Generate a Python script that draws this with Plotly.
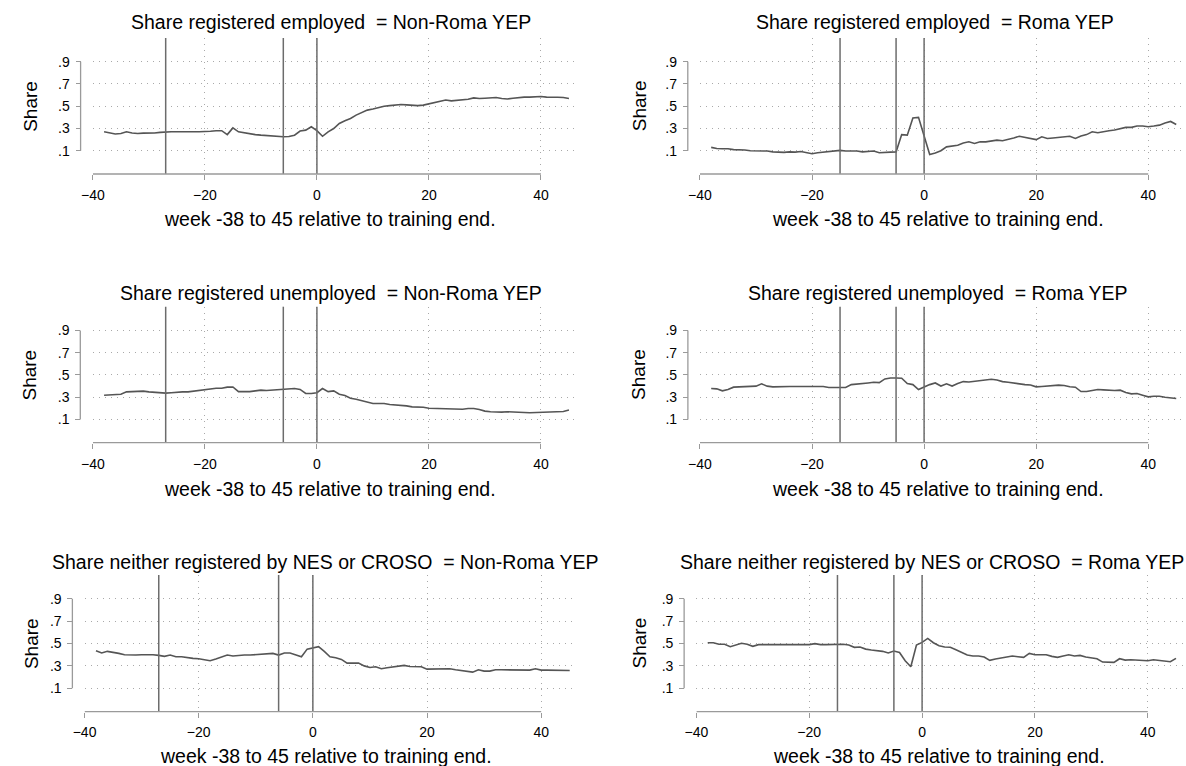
import plotly.graph_objects as go

W, H = 1186, 766
weeks = list(range(-38, 46))

titles = [
    "Share registered employed  = Non-Roma YEP",
    "Share registered employed  = Roma YEP",
    "Share registered unemployed  = Non-Roma YEP",
    "Share registered unemployed  = Roma YEP",
    "Share neither registered by NES or CROSO  = Non-Roma YEP",
    "Share neither registered by NES or CROSO  = Roma YEP",
]
x_title = "week -38 to 45 relative to training end."
y_title = "Share"
x_ticks = [-40, -20, 0, 20, 40]
y_ticks = [0.1, 0.3, 0.5, 0.7, 0.9]
y_ticktext = [".1", ".3", ".5", ".7", ".9"]

vlines_nonroma = [-27, -6, 0]
vlines_roma = [-15, -5, 0]

emp_nonroma = [0.27, 0.26, 0.25, 0.255, 0.27, 0.26, 0.255, 0.258, 0.258, 0.26, 0.265, 0.27,
               0.27, 0.27, 0.268, 0.268, 0.27, 0.27, 0.27, 0.275, 0.28, 0.28, 0.245, 0.305,
               0.27, 0.26, 0.25, 0.245, 0.24, 0.235, 0.232, 0.228, 0.226, 0.228, 0.24, 0.277,
               0.285, 0.315, 0.28, 0.23, 0.27, 0.30, 0.345, 0.37, 0.39, 0.42, 0.44, 0.465,
               0.475, 0.49, 0.50, 0.505, 0.51, 0.515, 0.512, 0.51, 0.505, 0.51, 0.52, 0.535,
               0.54, 0.556, 0.548, 0.552, 0.558, 0.562, 0.575, 0.57, 0.572, 0.575, 0.578, 0.57,
               0.565, 0.572, 0.58, 0.582, 0.582, 0.584, 0.588, 0.582, 0.578, 0.58, 0.578, 0.57]

emp_roma = [0.13, 0.12, 0.118, 0.118, 0.11, 0.11, 0.106, 0.10, 0.10, 0.103, 0.097, 0.09,
            0.085, 0.085, 0.09, 0.088, 0.093, 0.085, 0.073, 0.082, 0.088, 0.09, 0.10, 0.103,
            0.097, 0.097, 0.097, 0.09, 0.093, 0.097, 0.082, 0.082, 0.088, 0.09, 0.245, 0.24,
            0.395, 0.40, 0.23, 0.067, 0.08, 0.10, 0.135, 0.145, 0.15, 0.17, 0.18, 0.165,
            0.18, 0.18, 0.185, 0.195, 0.19, 0.20, 0.215, 0.23, 0.22, 0.21, 0.20, 0.225,
            0.21, 0.215, 0.22, 0.223, 0.23, 0.21, 0.232, 0.245, 0.27, 0.262, 0.274, 0.28,
            0.286, 0.298, 0.31, 0.31, 0.322, 0.322, 0.316, 0.322, 0.33, 0.35, 0.363, 0.336]

unemp_nonroma = [0.318, 0.32, 0.324, 0.327, 0.348, 0.35, 0.35, 0.354, 0.348, 0.344, 0.34, 0.336,
                 0.34, 0.345, 0.348, 0.348, 0.354, 0.363, 0.37, 0.37, 0.38, 0.38, 0.39, 0.392,
                 0.35, 0.35, 0.35, 0.357, 0.363, 0.36, 0.363, 0.372, 0.375, 0.375, 0.378, 0.37,
                 0.333, 0.333, 0.34, 0.378, 0.35, 0.357, 0.327, 0.315, 0.29, 0.282, 0.267, 0.255,
                 0.243, 0.243, 0.243, 0.234, 0.231, 0.225, 0.222, 0.213, 0.213, 0.21, 0.20, 0.198,
                 0.195, 0.195, 0.195, 0.195, 0.192, 0.198, 0.198, 0.19, 0.175, 0.169, 0.166, 0.166,
                 0.169, 0.169, 0.166, 0.163, 0.16, 0.163, 0.166, 0.166, 0.169, 0.172, 0.172, 0.184]

unemp_roma = [0.378, 0.375, 0.357, 0.369, 0.39, 0.393, 0.396, 0.399, 0.399, 0.42, 0.399, 0.393,
              0.396, 0.396, 0.396, 0.396, 0.396, 0.395, 0.393, 0.399, 0.396, 0.387, 0.387, 0.39,
              0.387, 0.413, 0.416, 0.422, 0.428, 0.434, 0.431, 0.464, 0.473, 0.473, 0.47, 0.422,
              0.413, 0.369, 0.393, 0.413, 0.428, 0.40, 0.42, 0.40, 0.422, 0.44, 0.437, 0.443,
              0.449, 0.458, 0.461, 0.455, 0.44, 0.434, 0.425, 0.42, 0.413, 0.41, 0.393, 0.396,
              0.399, 0.408, 0.408, 0.405, 0.393, 0.39, 0.351, 0.351, 0.36, 0.369, 0.366, 0.36,
              0.36, 0.363, 0.342, 0.33, 0.333, 0.318, 0.303, 0.309, 0.309, 0.30, 0.291, 0.288]

neither_nonroma = [0.435, 0.415, 0.43, 0.424, 0.412, 0.40, 0.397, 0.397, 0.40, 0.403, 0.40, 0.394,
                   0.385, 0.397, 0.382, 0.382, 0.373, 0.367, 0.364, 0.355, 0.346, 0.361, 0.376, 0.397,
                   0.388, 0.394, 0.397, 0.397, 0.40, 0.406, 0.409, 0.412, 0.397, 0.415, 0.415, 0.40,
                   0.382, 0.45, 0.46, 0.472, 0.43, 0.382, 0.373, 0.358, 0.325, 0.322, 0.325, 0.30,
                   0.286, 0.292, 0.274, 0.283, 0.289, 0.292, 0.304, 0.295, 0.295, 0.292, 0.271, 0.271,
                   0.271, 0.271, 0.274, 0.265, 0.256, 0.247, 0.244, 0.265, 0.253, 0.253, 0.265, 0.265,
                   0.265, 0.265, 0.262, 0.262, 0.262, 0.274, 0.262, 0.262, 0.262, 0.256, 0.262, 0.259]

neither_roma = [0.507, 0.507, 0.493, 0.493, 0.472, 0.484, 0.502, 0.493, 0.475, 0.49, 0.49, 0.49,
                0.49, 0.487, 0.484, 0.49, 0.484, 0.49, 0.49, 0.499, 0.49, 0.49, 0.493, 0.49,
                0.493, 0.487, 0.466, 0.469, 0.45, 0.442, 0.436, 0.43, 0.415, 0.433, 0.42, 0.346,
                0.292, 0.487, 0.51, 0.546, 0.507, 0.48, 0.469, 0.466, 0.445, 0.424, 0.397, 0.388,
                0.388, 0.379, 0.349, 0.361, 0.37, 0.382, 0.388, 0.382, 0.376, 0.412, 0.40, 0.40,
                0.40, 0.385, 0.376, 0.388, 0.40, 0.388, 0.394, 0.379, 0.373, 0.364, 0.334, 0.334,
                0.331, 0.364, 0.352, 0.355, 0.352, 0.349, 0.346, 0.355, 0.349, 0.337, 0.337, 0.367]

series = [emp_nonroma, emp_roma, unemp_nonroma, unemp_roma, neither_nonroma, neither_roma]
vlines = [vlines_nonroma, vlines_roma] * 3

FONT = "Liberation Sans, Arial, Helvetica, sans-serif"
X_RANGE = [-40, 46.3]
Y_RANGE = [-0.109, 1.113]

# pixel geometry per panel: (x_left, x_right, y_top, y_bottom, yaxis_line_x,
#                            title_cx, title_cy, xtitle_cx, xtitle_cy, ytitle_cx)
geom = [
    (81.7, 570.0, 38.0, 174.0, 69.3, 322, 22.3, 321.5, 219.5, 18),
    (695.0, 1183.5, 38.0, 174.0, 682.7, 932, 22.3, 935.8, 219.5, 633.6),
    (81.7, 570.0, 306.7, 442.7, 69.0, 322, 292.8, 321.5, 488.5, 18),
    (695.0, 1183.5, 306.7, 442.7, 682.8, 935, 292.8, 935.0, 488.5, 633.6),
    (73.3, 570.9, 575.0, 711.6, 61.0, 316.6, 562.3, 317.6, 755.5, 19),
    (691.4, 1183.3, 575.0, 711.6, 679.0, 929, 562.3, 936.0, 755.5, 633.6),
]

GRID = "#a9a9a9"
AXIS = "#9a9a9a"
REF = "#6c6c6c"
LINE = "#555555"
TITLE_SIZE = 19.5

fig = go.Figure()
shapes = []
annotations = []
layout = {}

for i, (g, ys, vl, ttl) in enumerate(zip(geom, series, vlines, titles)):
    n = i + 1
    xa = "xaxis" if n == 1 else f"xaxis{n}"
    ya = "yaxis" if n == 1 else f"yaxis{n}"
    xr = "x" if n == 1 else f"x{n}"
    yr = "y" if n == 1 else f"y{n}"
    xl, xrt, yt, yb, yline, tcx, tcy, xtcx, xtcy, ytcx = g

    fig.add_trace(go.Scatter(x=weeks, y=ys, mode="lines", xaxis=xr, yaxis=yr,
                             line=dict(color=LINE, width=1.6), showlegend=False,
                             hoverinfo="skip"))

    layout[xa] = dict(domain=[xl / W, xrt / W], range=X_RANGE, anchor=yr,
                      tickvals=x_ticks, ticks="outside", ticklen=5, tickwidth=1,
                      tickcolor=AXIS, showline=False, zeroline=False,
                      showgrid=True, gridcolor=GRID, griddash="1px,5px", gridwidth=1,
                      tickfont=dict(family=FONT, size=14, color="#000"),
                      ticklabelstandoff=3, fixedrange=True)
    layout[ya] = dict(domain=[1 - yb / H, 1 - yt / H], range=Y_RANGE, anchor="free",
                      position=yline / W,
                      tickvals=y_ticks, ticktext=y_ticktext, ticks="outside",
                      ticklen=5, tickwidth=1, tickcolor=AXIS, showline=False,
                      zeroline=False, showgrid=True, gridcolor=GRID, griddash="1px,5px",
                      gridwidth=1, tickfont=dict(family=FONT, size=14, color="#000"),
                      ticklabelstandoff=3, fixedrange=True)

    # reference lines
    for v in vl:
        shapes.append(dict(type="line", xref=xr, yref=f"{yr} domain", x0=v, x1=v,
                           y0=0, y1=1, line=dict(color=REF, width=1.5), layer="above"))
    # x axis line (from -40 to 40)
    shapes.append(dict(type="line", xref=xr, yref=f"{yr} domain", x0=x_ticks[0],
                       x1=x_ticks[-1], y0=0, y1=0, line=dict(color=AXIS, width=1.3)))
    # y axis line (from .1 to .9)
    shapes.append(dict(type="line", xref="paper", yref=yr, x0=yline / W, x1=yline / W,
                       y0=y_ticks[0], y1=y_ticks[-1], line=dict(color=AXIS, width=1.3)))

    annotations.append(dict(text=ttl, xref="paper", yref="paper", x=tcx / W, y=1 - tcy / H,
                            xanchor="center", yanchor="middle", showarrow=False,
                            font=dict(family=FONT, size=TITLE_SIZE, color="#000")))
    annotations.append(dict(text=x_title, xref="paper", yref="paper", x=xtcx / W,
                            y=1 - xtcy / H, xanchor="center", yanchor="middle",
                            showarrow=False, font=dict(family=FONT, size=TITLE_SIZE, color="#000")))
    annotations.append(dict(text=y_title, xref="paper", yref="paper", x=ytcx / W,
                            y=1 - (yt + yb) / 2 / H, xanchor="center", yanchor="middle",
                            textangle=-90, showarrow=False,
                            font=dict(family=FONT, size=19, color="#000")))

fig.update_layout(width=W, height=H, margin=dict(l=0, r=0, t=0, b=0),
                  paper_bgcolor="white", plot_bgcolor="white",
                  shapes=shapes, annotations=annotations, showlegend=False, **layout)

fig.write_html("out.html", include_plotlyjs=True, config={"displayModeBar": False},
               post_script=("document.body.style.margin='0';"
                            "document.body.style.padding='0';"
                            "document.body.style.overflow='hidden';"
                            "document.documentElement.style.overflow='hidden';"))
